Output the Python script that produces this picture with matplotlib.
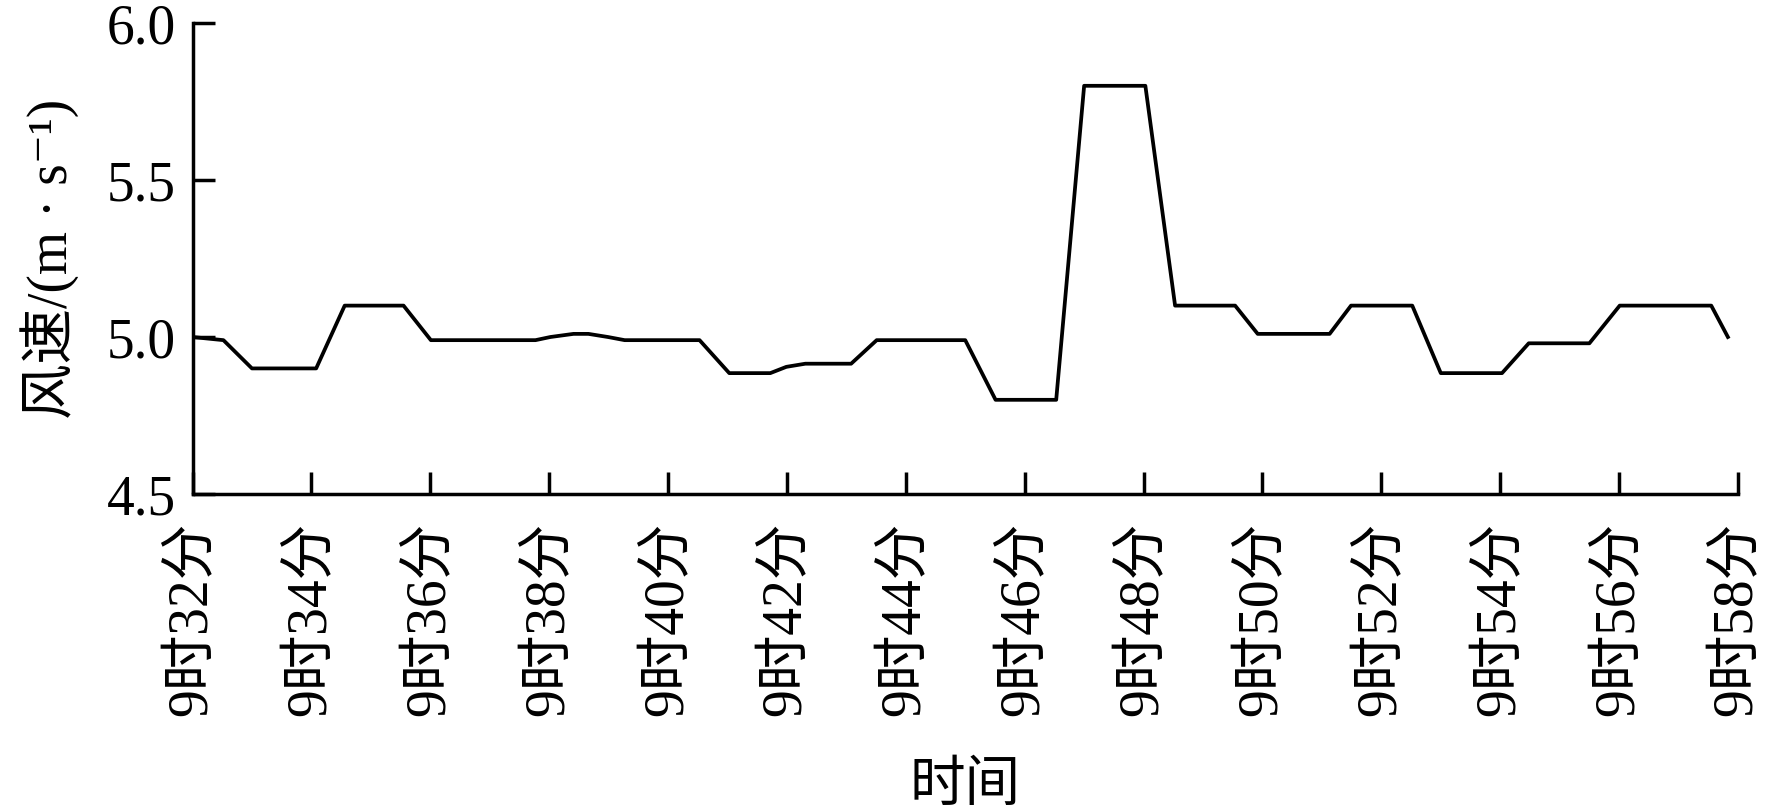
import matplotlib.pyplot as plt

plt.rcParams['font.family'] = ['Liberation Serif', 'Noto Sans CJK SC', 'DejaVu Serif']

# time in minutes after 9:00, wind speed in m/s
minutes = [32.0, 32.52, 33.0, 34.08, 34.56, 35.55, 36.01, 37.77, 38.02, 38.41,
           38.66, 38.99, 39.27, 40.53, 41.03, 41.72, 41.99, 42.31, 43.08, 43.51,
           45.0, 45.51, 46.53, 47.0, 48.03, 48.53, 49.54, 49.92, 51.13, 51.49,
           52.52, 53.0, 54.03, 54.48, 55.5, 56.01, 57.55, 57.83]
speed = [5.0, 4.99, 4.9, 4.9, 5.1, 5.1, 4.99, 4.99, 5.0, 5.01,
         5.01, 5.0, 4.99, 4.99, 4.885, 4.885, 4.905, 4.915, 4.915, 4.99,
         4.99, 4.8, 4.8, 5.8, 5.8, 5.1, 5.1, 5.01, 5.01, 5.1,
         5.1, 4.885, 4.885, 4.98, 4.98, 5.1, 5.1, 5.0]

tick_minutes = list(range(32, 59, 2))
tick_labels = [f'9时{m}分' for m in tick_minutes]
yticks = [4.5, 5.0, 5.5, 6.0]

fig = plt.figure(figsize=(17.76, 8.10), dpi=100)
ax = fig.add_axes([0.1084, 0.3901, 0.8702, 0.5815])

ax.plot(minutes, speed, color='black', lw=2.7)

ax.set_xlim(32, 58)
ax.set_ylim(4.5, 6.0)
ax.set_xticks(tick_minutes)
ax.set_xticklabels(tick_labels, rotation=90, fontsize=40)
ax.set_yticks(yticks)
ax.set_yticklabels([f'{v:.1f}' for v in yticks], fontsize=40)

for s in ['top', 'right']:
    ax.spines[s].set_visible(False)
for s in ['left', 'bottom']:
    ax.spines[s].set_linewidth(2.5)

ax.tick_params(axis='both', direction='in', length=16, width=2.5)
ax.tick_params(axis='x', pad=20)
ax.tick_params(axis='y', pad=12)

ax.set_xlabel('时间', fontsize=40, labelpad=32)
ax.set_ylabel('风速/(m · s⁻¹)', fontsize=40, labelpad=20)

fig.savefig('out.png', dpi=100)
